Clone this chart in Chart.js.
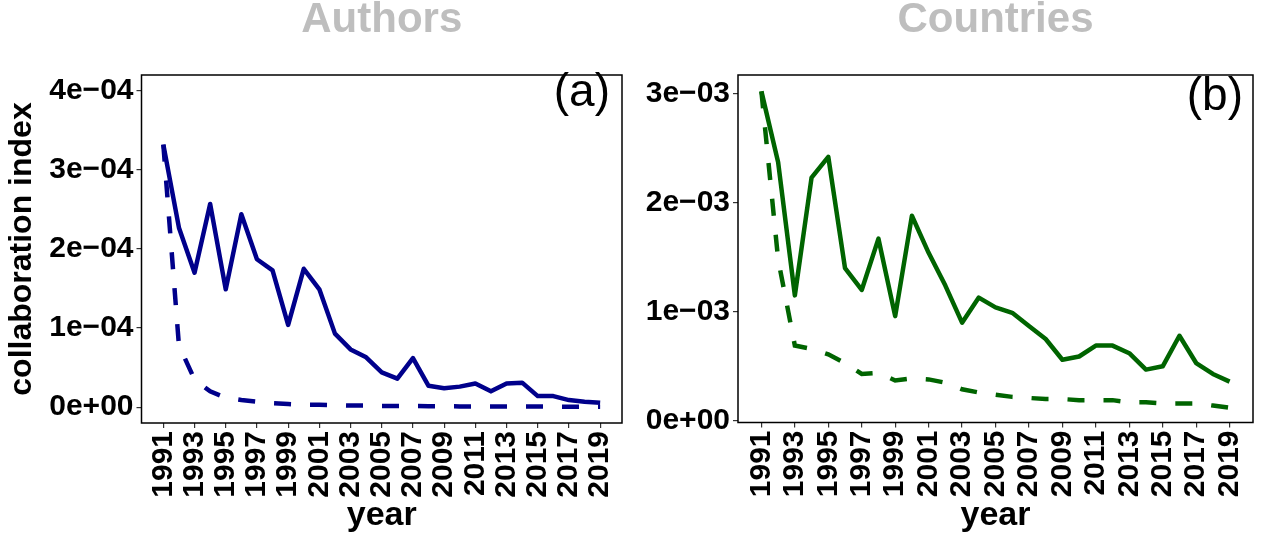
<!DOCTYPE html>
<html>
<head>
<meta charset="utf-8">
<script src="https://cdn.jsdelivr.net/npm/chart.js@4"></script>
<style>
  body { margin: 0; background: #fff; }
  #wrap { position: relative; width: 1262px; height: 539px; background: #fff; }
  canvas { position: absolute; top: 0; }
</style>
</head>
<body>
<div id="wrap">
  <canvas id="authorsChart" width="631" height="539" style="left:0"></canvas>
  <canvas id="countriesChart" width="631" height="539" style="left:631px"></canvas>
</div>
<script>
// yearly collaboration index, observed (solid) vs expected (dashed)
const years = [1991, 1992, 1993, 1994, 1995, 1996, 1997, 1998, 1999, 2000,
  2001, 2002, 2003, 2004, 2005, 2006, 2007, 2008, 2009, 2010,
  2011, 2012, 2013, 2014, 2015, 2016, 2017, 2018, 2019];
const yearTicks = [1991, 1993, 1995, 1997, 1999, 2001, 2003, 2005, 2007, 2009,
  2011, 2013, 2015, 2017, 2019];

const authorsObserved = [3.32e-4, 2.27e-4, 1.70e-4, 2.57e-4, 1.49e-4, 2.44e-4, 1.87e-4, 1.73e-4, 1.04e-4, 1.75e-4,
  1.49e-4, 0.93e-4, 0.73e-4, 0.63e-4, 0.44e-4, 0.36e-4, 0.62e-4, 0.27e-4, 0.24e-4, 0.26e-4,
  0.30e-4, 0.20e-4, 0.30e-4, 0.31e-4, 0.14e-4, 0.14e-4, 0.09e-4, 0.07e-4, 0.055e-4];
const authorsExpected = [3.32e-4, 0.78e-4, 0.35e-4, 0.20e-4, 0.12e-4, 0.09e-4, 0.07e-4, 0.05e-4, 0.04e-4, 0.03e-4,
  0.03e-4, 0.025e-4, 0.02e-4, 0.02e-4, 0.015e-4, 0.015e-4, 0.015e-4, 0.012e-4, 0.012e-4, 0.01e-4,
  0.01e-4, 0.01e-4, 0.008e-4, 0.008e-4, 0.008e-4, 0.007e-4, 0.006e-4, 0.006e-4, 0.005e-4];

const countriesObserved = [3.02e-3, 2.37e-3, 1.15e-3, 2.23e-3, 2.42e-3, 1.40e-3, 1.20e-3, 1.67e-3, 0.96e-3, 1.88e-3,
  1.54e-3, 1.24e-3, 0.90e-3, 1.13e-3, 1.04e-3, 0.99e-3, 0.87e-3, 0.75e-3, 0.56e-3, 0.59e-3,
  0.69e-3, 0.69e-3, 0.62e-3, 0.47e-3, 0.50e-3, 0.78e-3, 0.53e-3, 0.43e-3, 0.36e-3];
const countriesExpected = [3.02e-3, 1.48e-3, 0.69e-3, 0.66e-3, 0.61e-3, 0.53e-3, 0.43e-3, 0.44e-3, 0.37e-3, 0.39e-3,
  0.38e-3, 0.35e-3, 0.29e-3, 0.26e-3, 0.24e-3, 0.22e-3, 0.21e-3, 0.20e-3, 0.20e-3, 0.19e-3,
  0.19e-3, 0.19e-3, 0.17e-3, 0.17e-3, 0.16e-3, 0.16e-3, 0.16e-3, 0.14e-3, 0.12e-3];

const authorsTicks = [0, 1e-4, 2e-4, 3e-4, 4e-4];
const authorsTickLabels = ["0e+00", "1e\u221204", "2e\u221204", "3e\u221204", "4e\u221204"];
const countriesTicks = [0, 1e-3, 2e-3, 3e-3];
const countriesTickLabels = ["0e+00", "1e\u221203", "2e\u221203", "3e\u221203"];

const FONT = '"Liberation Sans", Arial, Helvetica, sans-serif';

// frame, panel heading and corner tag
const panelDecor = {
  id: 'panelDecor',
  afterDatasetsDraw(chart, args, opts) {
    const { ctx, chartArea: a } = chart;
    ctx.save();
    ctx.strokeStyle = '#000';
    ctx.lineWidth = 1.5;
    ctx.strokeRect(a.left, a.top, a.right - a.left, a.bottom - a.top);

    ctx.fillStyle = '#BEBEBE';
    ctx.font = 'bold 42px ' + FONT;
    ctx.textAlign = 'center';
    ctx.textBaseline = 'alphabetic';
    ctx.fillText(opts.heading, (a.left + a.right) / 2, 32);

    ctx.fillStyle = '#000';
    ctx.font = '46px ' + FONT;
    ctx.textAlign = 'right';
    ctx.fillText(opts.tag, a.right - opts.tagInset, a.top + opts.tagDrop);
    ctx.restore();
  }
};

function series(values) {
  return years.map((y, i) => ({ x: y, y: values[i] }));
}

function makePanel(id, cfg) {
  const ctx = document.getElementById(id).getContext('2d');
  return new Chart(ctx, {
    type: 'line',
    data: {
      datasets: [
        {
          data: series(cfg.observed),
          borderColor: cfg.color,
          borderWidth: 4.5,
          pointRadius: 0,
          tension: 0,
          borderCapStyle: 'butt',
          borderJoinStyle: 'round'
        },
        {
          data: series(cfg.expected),
          borderColor: cfg.color,
          borderWidth: 4.5,
          borderDash: [17, 19],
          pointRadius: 0,
          tension: 0,
          borderCapStyle: 'butt'
        }
      ]
    },
    options: {
      responsive: false,
      animation: false,
      events: [],
      layout: { padding: { top: 75, right: cfg.padRight, left: 0, bottom: 0 } },
      plugins: {
        legend: { display: false },
        tooltip: { enabled: false },
        panelDecor: { heading: cfg.heading, tag: cfg.tag, tagInset: cfg.tagInset, tagDrop: cfg.tagDrop }
      },
      scales: {
        x: {
          type: 'linear',
          min: 1989.6,
          max: 2020.4,
          afterBuildTicks: s => { s.ticks = yearTicks.map(v => ({ value: v })); },
          afterFit: s => {
            s.height = cfg.xAxisHeight;
            s.paddingLeft = 0;
            s.paddingRight = 0;
          },
          ticks: {
            autoSkip: false,
            maxRotation: 90,
            minRotation: 90,
            padding: 3,
            color: '#000',
            font: { family: FONT, size: 30, weight: 'bold' },
            callback: v => String(v)
          },
          grid: { drawOnChartArea: false, tickLength: 5, color: '#333', lineWidth: 1.2 },
          border: { display: false },
          title: {
            display: true,
            text: 'year',
            color: '#000',
            font: { family: FONT, size: 34, weight: 'bold', lineHeight: 1 },
            padding: { top: 0, bottom: 6 }
          }
        },
        y: {
          min: cfg.yMin,
          max: cfg.yMax,
          afterBuildTicks: s => { s.ticks = cfg.ticks.map(v => ({ value: v })); },
          afterFit: s => { s.width = cfg.yAxisWidth; },
          ticks: {
            padding: 3,
            color: '#000',
            font: { family: FONT, size: 30, weight: 'bold' },
            callback: (v, i) => cfg.tickLabels[i]
          },
          grid: { drawOnChartArea: false, tickLength: 5, color: '#333', lineWidth: 1.2 },
          border: { display: false },
          title: {
            display: cfg.yTitle !== '',
            text: cfg.yTitle,
            color: '#000',
            font: { family: FONT, size: 32, weight: 'bold', lineHeight: 1 },
            padding: { top: 6, bottom: 0 }
          }
        }
      }
    },
    plugins: [panelDecor]
  });
}

makePanel('authorsChart', {
  observed: authorsObserved,
  expected: authorsExpected,
  color: '#00008B',
  heading: 'Authors',
  tag: '(a)',
  tagInset: 12,
  tagDrop: 31,
  ticks: authorsTicks,
  tickLabels: authorsTickLabels,
  yMin: -0.2e-4,
  yMax: 4.2e-4,
  yTitle: 'collaboration index',
  yAxisWidth: 141.5,
  xAxisHeight: 116,
  padRight: 9
});

makePanel('countriesChart', {
  observed: countriesObserved,
  expected: countriesExpected,
  color: '#006400',
  heading: 'Countries',
  tag: '(b)',
  tagInset: 10,
  tagDrop: 35,
  ticks: countriesTicks,
  tickLabels: countriesTickLabels,
  yMin: -0.015e-3,
  yMax: 3.17e-3,
  yTitle: '',
  yAxisWidth: 107,
  xAxisHeight: 116.5,
  padRight: 9
});
</script>
</body>
</html>
